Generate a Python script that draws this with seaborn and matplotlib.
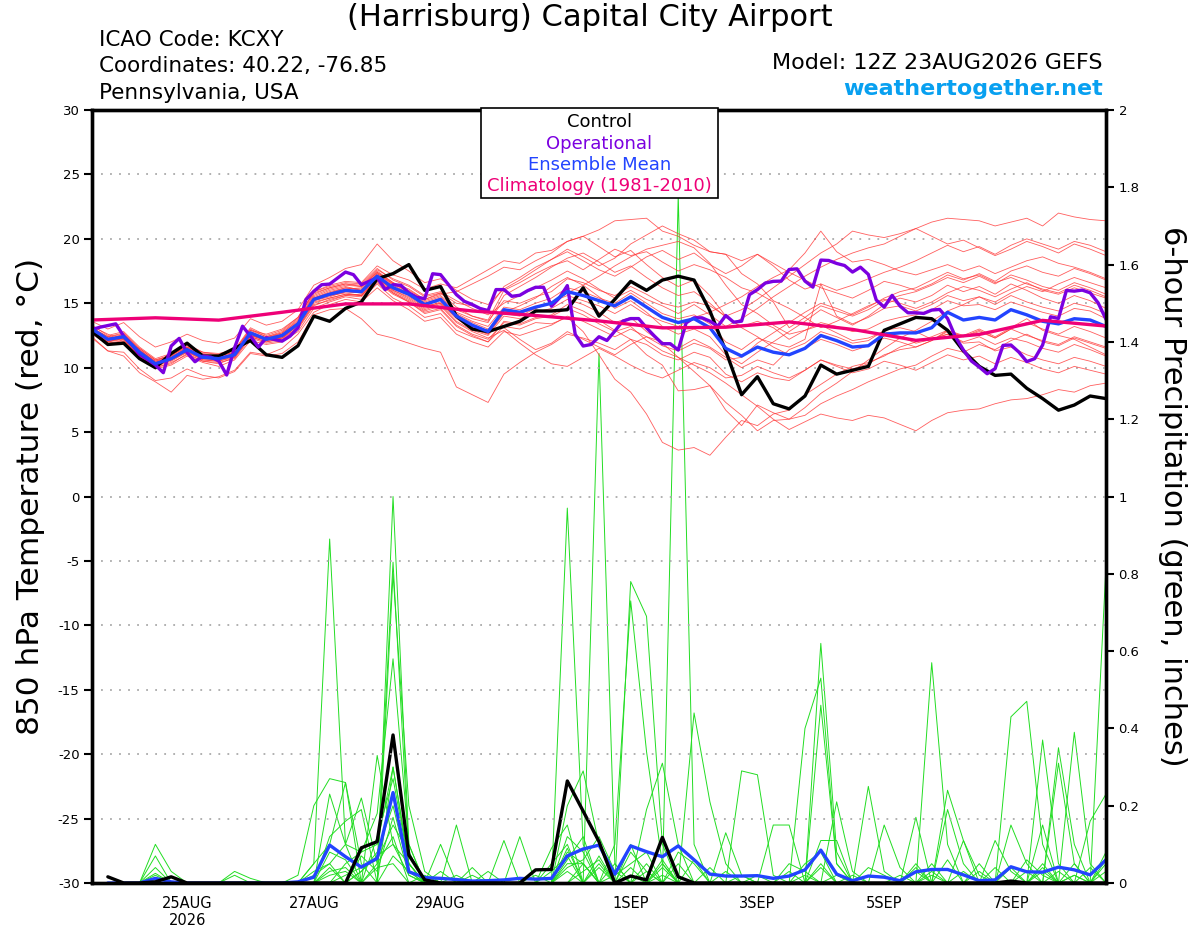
import numpy as np
import pandas as pd
import matplotlib
matplotlib.use("Agg")
import matplotlib.pyplot as plt
import matplotlib.patches as mpatches
import seaborn as sns

# ---- time axis (GEFS 12Z 23AUG2026 run, 6-hourly) ----
run_start = "2026-08-23 12:00"
n_steps = 65
tick_dates = ["2026-08-25", "2026-08-27", "2026-08-29", "2026-09-01",
              "2026-09-03", "2026-09-05", "2026-09-07"]
tick_labels = ["25AUG\n2026", "27AUG", "29AUG", "1SEP", "3SEP", "5SEP", "7SEP"]

# ---- 850 hPa temperature (deg C) ----
control_temp = [12.8, 11.8, 11.9, 10.7, 10.0, 11.1, 11.9, 10.9, 10.9, 11.5, 12.1, 11.0, 10.8,
                11.7, 14.0, 13.6, 14.6, 15.1, 16.9, 17.3, 18.0, 16.0, 16.3, 14.0, 13.0, 12.8,
                13.2, 13.6, 14.4, 14.4, 14.5, 16.2, 14.0, 15.3, 16.7, 16.0, 16.8, 17.1, 16.8,
                14.4, 11.3, 7.9, 9.3, 7.2, 6.8, 7.8, 10.2, 9.5, 9.8, 10.1, 12.9, 13.4,
                13.9, 13.8, 12.9, 11.3, 10.1, 9.4, 9.5, 8.4, 7.6, 6.7, 7.1, 7.8, 7.6]

mean_temp = [13.0, 12.2, 12.4, 11.2, 10.3, 10.7, 11.4, 10.8, 10.7, 11.0, 12.7, 12.2, 12.5,
             13.4, 15.3, 15.7, 16.0, 15.9, 17.1, 16.2, 15.7, 14.9, 15.3, 14.0, 13.3, 12.8,
             14.5, 14.3, 14.7, 15.0, 15.9, 15.6, 15.2, 14.8, 15.5, 14.7, 13.9, 13.5, 13.8,
             13.1, 11.5, 10.9, 11.6, 11.2, 11.0, 11.5, 12.5, 12.1, 11.6, 11.7, 12.6, 12.7,
             12.7, 13.1, 14.3, 13.7, 13.9, 13.7, 14.5, 14.1, 13.6, 13.4, 13.8, 13.7, 13.2]

# operational run is 3-hourly
oper_temp = [12.96, 13.14, 13.27, 13.40, 12.45, 11.80, 11.03, 10.64, 10.21, 9.61,
             11.68, 12.27, 11.16, 10.46, 10.90, 10.82, 10.52, 9.43, 11.55, 13.22,
             12.45, 11.60, 12.32, 12.19, 12.06, 12.45, 13.09, 15.28, 15.93, 16.44,
             16.49, 16.96, 17.42, 17.22, 16.44, 16.70, 17.01, 16.06, 16.44, 16.39,
             15.80, 15.46, 15.36, 17.29, 17.22, 16.44, 15.67, 15.15, 14.90, 14.59,
             14.43, 16.06, 16.06, 15.54, 15.62, 15.98, 16.24, 16.24, 14.77, 15.41,
             16.37, 12.58, 11.68, 11.80, 12.40, 12.11, 12.84, 13.61, 13.81, 13.81,
             13.09, 12.45, 11.86, 11.86, 11.37, 13.48, 13.87, 13.87, 13.61, 13.22,
             14.05, 13.53, 13.61, 15.67, 16.06, 16.57, 16.70, 16.72, 17.62, 17.67,
             16.72, 16.25, 18.35, 18.32, 18.09, 17.93, 17.42, 17.80, 17.24, 15.25,
             14.70, 15.61, 14.78, 14.26, 14.26, 14.21, 14.47, 14.52, 13.82, 12.38,
             11.37, 10.52, 10.05, 9.53, 9.92, 11.73, 11.76, 11.21, 10.47, 10.70,
             11.76, 13.95, 13.82, 15.99, 15.94, 16.02, 15.81, 15.04, 13.75]

# climatology (1981-2010), daily at 12Z
clim_temp = [13.7, 13.87, 13.69, 14.3, 14.95, 14.95, 14.4, 14.05, 13.63, 13.09,
             13.14, 13.55, 12.97, 12.12, 12.58, 13.67, 13.23]

ens_t01 = [13.2, 12.6, 12.0, 11.5, 10.6, 10.9, 11.8, 11.2, 11.0, 11.4, 12.9, 12.6, 13.0,
           13.9, 15.8, 16.2, 16.5, 16.4, 17.6, 16.9, 16.4, 15.6, 15.9, 15.2, 14.6, 14.1,
           15.0, 15.6, 16.2, 16.8, 17.5, 16.9, 16.1, 15.4, 16.0, 15.3, 14.8, 14.2, 14.9,
           14.1, 13.2, 13.8, 14.6, 15.5, 16.3, 17.1, 17.8, 18.4, 18.9, 19.3, 19.6, 20.2,
           20.8, 21.3, 21.6, 21.5, 21.4, 21.0, 21.3, 21.6, 21.0, 22.0, 21.7, 21.5, 21.4]
ens_t02 = [12.6, 11.8, 11.9, 10.8, 9.9, 10.2, 10.9, 10.4, 10.1, 10.6, 12.1, 11.8, 12.0,
           12.8, 14.6, 15.1, 15.5, 15.3, 16.5, 15.4, 14.8, 13.9, 14.2, 12.9, 12.4, 12.0,
           13.2, 13.0, 13.5, 13.4, 13.9, 12.8, 11.0, 9.1, 8.1, 6.4, 4.2, 3.6, 3.8,
           3.2, 4.6, 5.9, 5.5, 6.4, 6.7, 7.9, 8.7, 9.5, 10.1, 10.4, 10.9, 11.6,
           12.0, 12.4, 12.9, 12.5, 13.0, 12.4, 13.1, 13.8, 12.9, 12.5, 12.2, 11.6, 11.0]
ens_t03 = [12.9, 12.0, 12.3, 11.0, 10.0, 10.4, 11.0, 10.5, 10.3, 10.8, 12.4, 12.0, 12.3,
           13.1, 14.9, 15.2, 15.6, 15.7, 16.8, 15.8, 15.1, 14.3, 14.6, 13.3, 12.6, 12.2,
           13.5, 13.3, 13.8, 14.0, 14.6, 14.1, 13.4, 12.8, 13.2, 12.1, 11.3, 10.8, 10.2,
           9.6, 8.8, 7.9, 7.0, 6.0, 5.2, 5.8, 6.4, 6.1, 5.9, 6.3, 6.1, 5.6,
           5.1, 5.9, 6.5, 6.7, 6.8, 7.2, 7.5, 7.6, 7.9, 8.3, 8.1, 8.6, 8.8]
ens_t04 = [13.1, 12.4, 12.7, 11.5, 10.6, 11.0, 11.6, 11.1, 11.0, 11.3, 13.0, 12.4, 12.8,
           13.8, 15.9, 16.4, 16.7, 16.6, 17.9, 17.2, 16.8, 16.1, 16.5, 16.2, 16.9, 17.6,
           18.3, 18.1, 18.9, 19.1, 19.8, 20.2, 20.7, 21.4, 21.5, 21.6, 20.6, 20.2, 19.5,
           19.0, 18.8, 17.3, 16.5, 15.2, 14.6, 13.9, 13.1, 13.6, 14.2, 14.8, 15.3, 15.0,
           14.6, 15.1, 15.8, 16.3, 16.0, 15.5, 16.1, 16.6, 16.0, 15.7, 16.2, 15.8, 15.4]
ens_t05 = [13.0, 12.3, 12.5, 11.3, 10.5, 10.8, 11.5, 10.9, 10.8, 11.1, 12.8, 12.3, 12.6,
           13.5, 15.5, 16.0, 16.3, 16.0, 17.3, 16.5, 15.9, 15.1, 15.5, 14.3, 13.8, 13.5,
           15.6, 16.3, 17.0, 17.8, 18.5, 18.9, 18.2, 17.4, 17.9, 17.0, 16.2, 15.6, 15.9,
           15.0, 13.9, 13.2, 13.6, 13.1, 12.2, 12.9, 13.5, 13.2, 12.8, 13.0, 13.6, 13.9,
           14.1, 14.5, 15.2, 14.8, 14.9, 14.5, 15.1, 14.7, 14.3, 14.0, 14.6, 14.4, 13.8]
ens_t06 = [12.8, 12.0, 12.2, 10.9, 10.1, 10.6, 11.3, 10.6, 10.5, 10.9, 12.5, 12.1, 12.3,
           13.3, 15.2, 15.6, 15.8, 15.6, 16.9, 16.0, 15.4, 14.6, 15.0, 13.8, 13.0, 12.6,
           14.2, 14.0, 14.6, 15.1, 15.6, 15.2, 14.8, 14.2, 14.9, 14.1, 13.6, 13.2, 13.9,
           14.3, 14.9, 15.5, 16.3, 17.0, 17.6, 18.9, 20.6, 19.0, 18.2, 18.4, 18.0, 17.5,
           17.2, 17.6, 18.0, 17.5, 17.9, 17.3, 17.8, 18.3, 18.6, 18.1, 17.8, 17.4, 16.9]
ens_t07 = [12.7, 11.9, 12.0, 10.9, 10.0, 10.3, 11.1, 10.5, 10.4, 10.7, 12.3, 11.9, 12.1,
           13.0, 14.8, 15.3, 15.6, 15.5, 16.6, 15.7, 15.1, 14.2, 14.5, 13.2, 12.5, 12.0,
           13.6, 13.4, 13.9, 14.1, 14.9, 14.4, 13.7, 12.9, 12.2, 11.0, 10.2, 8.2, 8.3,
           8.6, 7.3, 6.3, 5.1, 5.9, 6.0, 6.3, 7.2, 7.8, 8.3, 8.9, 9.4, 9.9,
           10.2, 10.9, 11.5, 11.2, 11.8, 11.4, 12.1, 12.6, 12.0, 11.7, 12.3, 11.9, 11.5]
ens_t08 = [12.3, 11.3, 11.2, 9.9, 9.0, 9.2, 9.9, 9.4, 9.2, 9.7, 11.1, 10.9, 11.1,
           12.0, 14.1, 14.5, 14.6, 13.8, 12.6, 12.3, 11.9, 11.5, 11.2, 8.5, 7.9, 7.3,
           9.5, 10.4, 11.2, 11.8, 12.6, 12.3, 11.9, 11.4, 12.2, 11.8, 11.0, 10.6, 11.2,
           10.8, 9.5, 8.9, 9.6, 9.2, 9.0, 9.8, 10.6, 10.2, 9.9, 10.3, 11.0, 11.4,
           11.6, 12.1, 12.9, 12.4, 12.8, 12.3, 13.0, 12.5, 12.1, 11.8, 12.4, 12.0, 11.6]
ens_t09 = [13.3, 12.5, 12.8, 11.6, 10.7, 11.1, 11.7, 11.2, 11.1, 11.4, 13.1, 12.5, 12.9,
           13.9, 15.9, 16.3, 16.6, 16.5, 17.7, 16.8, 16.3, 15.5, 15.8, 14.7, 14.0, 13.6,
           15.2, 15.0, 15.5, 15.9, 16.9, 16.6, 16.0, 15.6, 16.3, 15.7, 15.0, 14.7, 15.1,
           14.8, 14.0, 14.5, 15.3, 16.2, 17.1, 18.0, 18.9, 19.6, 20.6, 20.3, 20.1, 20.4,
           20.8, 20.2, 19.6, 19.9, 19.3, 18.7, 19.2, 19.8, 19.4, 18.9, 19.6, 19.2, 18.7]
ens_t10 = [13.0, 12.2, 12.6, 11.4, 10.4, 10.8, 11.6, 11.0, 10.9, 11.2, 12.6, 12.3, 12.7,
           13.6, 15.6, 16.1, 16.4, 16.3, 17.5, 16.6, 16.0, 15.3, 15.8, 15.0, 14.8, 14.5,
           16.3, 17.0, 17.8, 18.4, 19.2, 18.6, 17.9, 18.5, 19.6, 20.3, 21.0, 20.4, 19.9,
           19.0, 18.8, 18.3, 18.8, 17.9, 16.8, 16.1, 16.5, 16.0, 16.4, 16.9, 17.4, 17.8,
           18.3, 18.9, 19.5, 19.0, 19.4, 18.8, 19.5, 20.0, 19.6, 19.2, 19.8, 19.5, 19.0]
ens_t11 = [12.7, 11.9, 12.1, 10.9, 10.1, 10.5, 11.2, 10.6, 10.5, 10.8, 12.4, 12.0, 12.2,
           13.1, 15.0, 15.4, 15.7, 15.6, 16.7, 15.8, 15.2, 14.4, 14.8, 13.5, 12.8, 12.3,
           12.9, 11.9, 11.0, 10.3, 10.1, 10.8, 11.5, 10.9, 10.2, 9.6, 9.2, 9.8, 10.4,
           10.0, 9.2, 9.4, 10.1, 9.6, 9.2, 9.8, 10.6, 10.1, 9.6, 9.9, 10.5, 10.2,
           9.8, 10.4, 11.0, 10.6, 10.9, 10.3, 10.8, 10.4, 9.9, 9.6, 10.1, 9.8, 9.5]
ens_t12 = [13.1, 12.3, 12.2, 11.0, 10.4, 10.6, 11.3, 10.7, 10.6, 11.2, 12.6, 12.2, 12.4,
           13.5, 15.2, 15.5, 15.9, 15.8, 16.9, 16.1, 15.6, 14.8, 15.0, 13.9, 13.2, 12.6,
           14.3, 14.8, 15.4, 16.3, 17.0, 16.4, 15.5, 14.6, 15.2, 14.3, 13.2, 12.6, 13.0,
           12.4, 11.0, 10.3, 11.2, 12.0, 12.8, 13.6, 14.5, 13.9, 13.3, 14.0, 14.9, 15.4,
           15.1, 15.6, 16.4, 15.9, 16.3, 15.7, 16.5, 16.0, 15.4, 15.0, 15.6, 15.2, 14.6]
ens_t13 = [12.9, 12.1, 12.4, 11.2, 10.2, 10.6, 11.4, 10.8, 10.6, 11.0, 12.6, 12.2, 12.4,
           13.4, 15.4, 15.8, 16.1, 16.2, 17.4, 16.6, 16.1, 15.3, 15.7, 15.9, 16.5, 17.1,
           17.8, 17.6, 18.3, 18.9, 19.8, 20.2, 19.4, 18.6, 19.1, 18.0, 17.0, 16.3, 16.8,
           15.6, 14.0, 13.1, 12.4, 11.6, 11.0, 11.5, 12.2, 11.8, 11.3, 11.7, 12.3, 12.0,
           11.6, 12.1, 12.8, 12.4, 12.9, 12.3, 13.0, 13.5, 13.0, 12.6, 13.2, 12.8, 12.3]
ens_t14 = [13.6, 13.0, 13.5, 12.4, 11.6, 12.0, 12.6, 12.1, 11.9, 12.3, 13.8, 13.3, 13.6,
           14.5, 16.4, 17.0, 17.7, 18.0, 19.6, 18.3, 17.5, 16.6, 16.9, 16.0, 15.3, 14.9,
           16.1, 16.8, 17.6, 18.4, 19.0, 18.3, 17.6, 17.1, 17.8, 18.6, 19.1, 18.4, 18.9,
           18.0, 17.3, 17.9, 18.8, 18.1, 17.4, 16.8, 16.2, 15.8, 15.4, 16.0, 16.7, 16.4,
           16.0, 16.5, 17.2, 16.8, 17.3, 16.7, 17.5, 17.9, 17.4, 17.1, 17.7, 17.3, 16.8]
ens_t15 = [12.4, 11.3, 10.9, 9.6, 8.9, 8.1, 9.4, 9.1, 9.3, 9.8, 11.2, 11.0, 11.5,
           12.6, 14.3, 14.9, 15.3, 15.1, 16.2, 15.2, 14.5, 13.6, 13.9, 12.6, 12.0, 11.6,
           12.8, 12.5, 12.9, 13.3, 14.0, 13.6, 13.0, 12.4, 13.0, 12.4, 11.7, 11.3, 11.9,
           11.5, 10.6, 10.8, 11.9, 12.7, 13.5, 14.3, 15.0, 14.6, 14.1, 14.7, 15.4, 15.9,
           16.2, 16.8, 17.4, 16.9, 17.2, 16.6, 17.0, 16.5, 16.1, 15.8, 16.4, 16.0, 15.5]
ens_t16 = [12.8, 12.1, 12.3, 11.1, 10.3, 10.7, 11.3, 10.8, 10.7, 10.9, 12.5, 12.1, 12.4,
           13.2, 15.1, 15.4, 15.7, 15.6, 16.8, 15.9, 15.3, 14.5, 14.9, 13.6, 12.9, 12.5,
           14.0, 13.8, 14.3, 14.6, 15.3, 14.9, 14.3, 13.5, 13.9, 12.8, 11.9, 10.8, 9.7,
           8.6, 6.7, 5.5, 7.1, 6.5, 6.0, 6.9, 8.0, 8.8, 9.7, 10.6, 11.5, 12.3,
           12.9, 13.6, 14.4, 14.9, 15.5, 15.1, 15.8, 16.3, 15.9, 16.5, 17.0, 16.6, 16.2]
ens_t17 = [12.9, 12.2, 12.5, 11.3, 10.4, 10.9, 11.5, 10.9, 10.8, 11.1, 12.7, 12.3, 12.5,
           13.4, 15.4, 15.8, 16.2, 16.0, 17.2, 16.3, 15.8, 15.0, 15.4, 14.1, 13.5, 13.0,
           13.1, 12.2, 11.4, 11.9, 12.8, 12.2, 11.6, 11.0, 11.8, 12.4, 12.0, 11.5, 12.2,
           11.6, 10.8, 10.0, 10.6, 10.2, 11.4, 11.9, 12.8, 12.4, 11.9, 12.1, 12.9, 13.1,
           12.8, 12.2, 12.6, 12.0, 12.4, 11.8, 12.3, 12.0, 11.5, 11.2, 11.8, 11.4, 10.9]
ens_t18 = [13.1, 12.4, 12.6, 11.4, 10.5, 11.0, 11.6, 11.0, 10.9, 11.2, 12.9, 12.4, 12.7,
           13.7, 15.7, 16.2, 16.5, 16.3, 17.4, 16.5, 15.9, 15.2, 15.6, 14.5, 14.0, 13.7,
           16.0, 16.6, 17.3, 17.9, 18.3, 17.6, 18.4, 19.2, 18.7, 19.0, 18.2, 17.5, 18.0,
           17.6, 17.0, 16.2, 15.8, 15.1, 13.1, 13.9, 14.8, 14.4, 14.0, 14.5, 15.2, 15.6,
           15.9, 16.4, 17.0, 16.6, 17.1, 16.5, 17.2, 16.8, 16.3, 16.0, 16.6, 16.2, 15.7]
ens_t19 = [12.8, 12.0, 12.4, 11.1, 10.2, 10.6, 11.2, 10.7, 10.6, 10.9, 12.5, 12.2, 12.3,
           13.3, 15.3, 15.6, 15.9, 15.8, 17.0, 16.0, 15.5, 14.7, 15.1, 13.9, 13.1, 12.7,
           14.4, 14.2, 14.6, 15.0, 15.8, 16.4, 17.1, 17.9, 18.6, 19.2, 19.5, 19.8, 19.3,
           18.1, 16.4, 14.9, 14.2, 13.3, 12.6, 12.9, 13.3, 12.7, 12.1, 12.3, 12.8, 12.4,
           11.9, 12.2, 12.6, 11.9, 12.0, 11.3, 11.6, 11.0, 10.6, 10.3, 10.8, 10.5, 10.1]
ens_t20 = [13.0, 12.3, 12.3, 11.2, 10.4, 10.7, 11.5, 10.9, 10.8, 11.0, 12.7, 12.3, 12.6,
           13.5, 15.4, 15.9, 16.2, 16.1, 17.3, 16.4, 15.8, 15.0, 15.3, 14.2, 13.6, 13.2,
           14.7, 14.5, 15.0, 15.4, 16.2, 15.9, 15.4, 15.0, 15.8, 15.0, 14.2, 13.8, 14.1,
           13.4, 12.0, 11.4, 12.3, 11.9, 11.6, 12.2, 16.5, 14.0, 13.4, 13.9, 14.6, 14.8,
           14.4, 14.9, 15.6, 15.2, 15.5, 14.9, 15.6, 15.1, 14.7, 14.4, 15.0, 14.7, 14.2]

ens_temp = [ens_t01, ens_t02, ens_t03, ens_t04, ens_t05, ens_t06, ens_t07, ens_t08, ens_t09, ens_t10,
            ens_t11, ens_t12, ens_t13, ens_t14, ens_t15, ens_t16, ens_t17, ens_t18, ens_t19, ens_t20]

# ---- 6-hour precipitation (inches), valid from the first 6 h step ----
control_prcp = [0.016, 0, 0, 0.003, 0.016, 0, 0, 0, 0, 0, 0, 0, 0, 0, 0, 0,
                0.091, 0.107, 0.383, 0.072, 0.008, 0, 0, 0, 0, 0, 0, 0.034, 0.035, 0.264, 0.186, 0.107,
                0, 0.018, 0.008, 0.118, 0.016, 0, 0, 0, 0, 0, 0, 0, 0, 0, 0, 0,
                0, 0, 0, 0, 0, 0, 0, 0, 0, 0.005, 0, 0, 0, 0, 0, 0]
mean_prcp = [0, 0, 0, 0.012, 0.003, 0, 0, 0, 0, 0, 0, 0, 0.003, 0.015, 0.098, 0.068,
             0.041, 0.064, 0.234, 0.029, 0.014, 0.012, 0.009, 0.005, 0.006, 0.008, 0.012, 0.010, 0.012, 0.070, 0.088, 0.098,
             0.023, 0.096, 0.081, 0.068, 0.096, 0.060, 0.023, 0.018, 0.018, 0.019, 0.012, 0.018, 0.034, 0.085, 0.023, 0.006,
             0.018, 0.015, 0.006, 0.029, 0.035, 0.035, 0.021, 0.006, 0.008, 0.042, 0.029, 0.028, 0.041, 0.034, 0.021, 0.060]

ens_p01 = [0, 0, 0, .10, .03, 0, 0, 0, 0, 0, 0, 0, 0, .05, .89, .10,
           0, 0, .30, .05, 0, 0, .15, 0, 0, 0, 0, 0, 0, .97, .10, 0,
           0, 0, .05, 0, 0, 0, 0, 0, .29, .28, .02, 0, 0, 0, 0, 0,
           0, 0, 0, 0, .05, 0, 0, 0, 0, 0, 0, .37, .05, 0, 0, 0]
ens_p02 = [0, 0, 0, .07, 0, 0, 0, 0, 0, 0, 0, 0, .02, .20, .27, .26,
           .05, 0, 1.00, .10, 0, .10, 0, 0, 0, 0, 0, 0, 0, 0, 0, 1.37,
           .05, 0, 0, .05, 0, 0, 0, 0, 0, 0, 0, 0, 0, .62, .08, 0,
           0, 0, 0, 0, 0, 0, 0, 0, 0, .43, .47, .10, 0, 0, 0, .05]
ens_p03 = [0, 0, 0, .025, 0, 0, 0, 0, 0, 0, 0, 0, 0, 0, .23, .10,
           .22, .05, .83, .08, 0, 0, 0, 0, 0, .11, 0, 0, 0, 0, .05, 0,
           0, .78, .69, .10, 0, 0, 0, 0, 0, 0, 0, 0, .40, .53, .05, 0,
           0, 0, 0, .17, 0, 0, 0, 0, 0, 0, 0, 0, 0, .39, .05, 0]
ens_p04 = [0, 0, 0, 0, 0, 0, 0, 0, .03, .012, 0, 0, 0, .05, .10, .26,
           0, .33, .10, .05, 0, 0, 0, 0, 0, 0, .12, 0, 0, .20, .29, .10,
           0, 0, 0, 0, 1.78, .10, 0, 0, 0, 0, 0, 0, 0, .46, .05, 0,
           0, 0, 0, 0, .57, .10, 0, 0, 0, 0, 0, 0, 0, 0, 0, .82]
ens_p05 = [0, 0, 0, 0, 0, 0, 0, 0, 0, 0, 0, 0, 0, 0, .12, .16,
           .19, 0, .80, .20, .03, 0, 0, 0, 0, 0, 0, 0, .09, .15, 0, 0,
           .10, .73, .34, .05, 0, 0, 0, 0, 0, 0, .15, .15, 0, 0, 0, 0,
           .25, .03, 0, 0, 0, 0, 0, 0, 0, 0, 0, 0, .35, .10, 0, 0]
ens_p06 = [0, 0, 0, 0, 0, 0, 0, 0, 0, 0, 0, 0, 0, .02, .05, .10,
           .08, .18, .58, .10, 0, 0, 0, .02, 0, 0, 0, 0, 0, .12, .08, 0,
           0, 0, .19, .31, .10, 0, 0, .13, .02, 0, 0, 0, 0, 0, 0, 0,
           0, .15, .04, 0, 0, 0, 0, 0, 0, .15, .05, 0, .31, .05, 0, 0]
ens_p07 = [0, 0, 0, 0, 0, 0, 0, 0, 0, 0, 0, 0, 0, 0, 0, .05,
           .08, .10, .30, .05, 0, 0, 0, 0, 0, 0, 0, 0, 0, .08, .05, 0,
           0, 0, 0, 0, 0, .44, .21, .05, 0, 0, 0, 0, 0, .11, .11, 0,
           0, 0, 0, 0, 0, .24, .11, 0, 0, 0, 0, .15, 0, 0, .16, .23]
ens_p08 = [0, 0, 0, 0, 0, 0, 0, 0, 0, 0, 0, 0, 0, 0, .08, .06,
           0, .12, .27, .05, 0, 0, 0, 0, .03, 0, 0, 0, .05, .10, 0, .05,
           0, .10, 0, 0, .08, .05, 0, 0, 0, 0, 0, 0, 0, 0, .21, .03,
           0, 0, 0, 0, 0, .19, .05, 0, .11, .03, 0, .05, 0, 0, 0, .08]
ens_p09 = [0, 0, 0, 0, 0, 0, 0, 0, 0, 0, 0, 0, 0, .03, .05, 0,
           .03, .08, .20, .03, 0, 0, 0, 0, 0, 0, 0, .02, 0, .06, .12, 0,
           .02, .05, .08, 0, 0, 0, 0, 0, 0, 0, 0, .05, .03, 0, 0, 0,
           0, 0, 0, .05, 0, 0, .11, .02, 0, 0, 0, 0, 0, .05, 0, 0]
ens_p10 = [0, 0, 0, 0, 0, 0, 0, 0, 0, 0, 0, 0, 0, 0, 0, .02,
           .04, .06, .15, .08, 0, 0, 0, 0, 0, 0, 0, 0, 0, .04, .06, .12,
           .03, 0, 0, .04, 0, 0, 0, .03, 0, 0, 0, 0, 0, 0, 0, .02,
           0, 0, 0, 0, .03, 0, 0, 0, 0, 0, .06, .02, 0, 0, 0, 0]
ens_p11 = [0, 0, 0, .02, 0, 0, 0, 0, 0, 0, 0, 0, 0, 0, .03, .04,
           0, .05, .12, 0, .02, 0, 0, 0, 0, 0, 0, 0, 0, .05, .05, 0,
           0, .08, .03, 0, 0, .06, 0, 0, 0, .02, 0, 0, 0, .05, 0, 0,
           0, 0, 0, .03, 0, 0, 0, 0, .04, 0, 0, 0, .03, 0, .04, 0]
ens_p12 = [0, 0, 0, 0, 0, 0, 0, 0, 0, 0, 0, 0, 0, 0, 0, 0,
           .03, .07, .10, .02, 0, .03, 0, 0, 0, 0, 0, 0, .03, .07, 0, .04,
           0, 0, 0, 0, .05, 0, 0, 0, 0, 0, 0, 0, .02, 0, 0, 0,
           .04, .02, 0, 0, 0, .06, 0, 0, 0, .04, 0, 0, 0, .02, 0, 0]
ens_p13 = [0, 0, 0, 0, 0, 0, 0, 0, 0, 0, 0, 0, 0, 0, .02, .03,
           0, 0, .07, .03, 0, 0, 0, 0, 0, 0, 0, 0, 0, 0, .03, .06,
           0, .04, 0, .02, 0, 0, .04, 0, 0, 0, 0, .03, 0, 0, .02, 0,
           0, 0, 0, 0, .02, 0, 0, .03, 0, 0, 0, .03, 0, 0, 0, .03]
ens_p14 = [0, 0, 0, 0, 0, 0, 0, 0, 0, 0, 0, 0, 0, 0, 0, 0,
           0, .04, .05, 0, 0, 0, .02, 0, 0, 0, 0, 0, 0, .03, 0, 0,
           .05, 0, .03, 0, 0, 0, 0, 0, .02, 0, 0, 0, 0, .04, 0, 0,
           0, 0, .02, 0, 0, 0, .03, 0, 0, 0, .03, 0, 0, .02, 0, 0]
ens_p15 = [0, 0, 0, .04, 0, 0, 0, 0, .02, 0, 0, 0, 0, 0, .04, 0,
           .07, .03, .17, .02, 0, 0, 0, .04, 0, 0, 0, 0, 0, .09, 0, .07,
           0, .02, 0, .06, 0, 0, 0, 0, 0, 0, 0, 0, .05, .08, 0, 0,
           0, 0, 0, .04, 0, 0, 0, .05, 0, 0, 0, .04, 0, 0, 0, .06]

ens_prcp = [ens_p01, ens_p02, ens_p03, ens_p04, ens_p05, ens_p06, ens_p07, ens_p08,
            ens_p09, ens_p10, ens_p11, ens_p12, ens_p13, ens_p14, ens_p15]

# ---- build the time coordinates ----
times = pd.date_range(run_start, periods=n_steps, freq="6h")
times_3h = pd.date_range(run_start, periods=len(oper_temp), freq="3h")
times_clim = pd.date_range(run_start, periods=len(clim_temp), freq="1D")
times_prcp = times[1:]

temp_df = pd.concat([pd.DataFrame({"time": times, "temp": m, "member": i})
                     for i, m in enumerate(ens_temp)], ignore_index=True)
prcp_df = pd.concat([pd.DataFrame({"time": times_prcp, "prcp": m, "member": i})
                     for i, m in enumerate(ens_prcp)], ignore_index=True)

# ---- style ----
sns.set_style("white")
plt.rcParams["font.family"] = ["DejaVu Sans"]
plt.rcParams["axes.unicode_minus"] = False
for key in ("text.color", "axes.labelcolor", "xtick.color", "ytick.color"):
    plt.rcParams[key] = "black"

fig = plt.figure(figsize=(12, 9.27), dpi=100)
ax_p = fig.add_axes([92 / 1200, 44 / 927, 1014 / 1200, 773 / 927])
ax_t = ax_p.twinx()

# precipitation (green) sits underneath the temperature lines
sns.lineplot(data=prcp_df, x="time", y="prcp", units="member", estimator=None,
             color="#22dd22", linewidth=0.7, ax=ax_p, legend=False)
sns.lineplot(x=times_prcp, y=mean_prcp, color="#2244ff", linewidth=2.4, ax=ax_p)
sns.lineplot(x=times_prcp, y=control_prcp, color="black", linewidth=2.4, ax=ax_p)

# temperature
sns.lineplot(data=temp_df, x="time", y="temp", units="member", estimator=None,
             color="#ff3535", linewidth=0.6, alpha=0.8, ax=ax_t, legend=False)
sns.lineplot(x=times, y=control_temp, color="black", linewidth=2.4, ax=ax_t)
sns.lineplot(x=times_3h, y=oper_temp, color="#7b00e0", linewidth=2.4, ax=ax_t)
sns.lineplot(x=times, y=mean_temp, color="#2244ff", linewidth=2.4, ax=ax_t)
sns.lineplot(x=times_clim, y=clim_temp, color="#ee0077", linewidth=2.4, ax=ax_t)

# axes, ticks
ax_t.set_xlim(times[0], times[-1])
ax_t.set_ylim(-30, 30)
ax_p.set_ylim(0, 2)

ax_t.yaxis.tick_left()
ax_t.yaxis.set_label_position("left")
ax_p.yaxis.tick_right()
ax_p.yaxis.set_label_position("right")

ax_t.set_yticks(np.arange(-30, 31, 5))
ax_p.set_yticks(np.arange(0, 2.01, 0.2))
ax_p.set_yticklabels([f"{v:g}" for v in np.arange(0, 2.01, 0.2)])
ax_t.set_xticks(pd.to_datetime(tick_dates))
ax_t.set_xticklabels(tick_labels)
ax_p.set_xticks(pd.to_datetime(tick_dates))
ax_p.set_xticklabels(tick_labels)

for a in (ax_t, ax_p):
    a.tick_params(axis="both", direction="out", length=6, width=1.5, colors="black",
                  labelsize=9.5, pad=3)
    for s in a.spines.values():
        s.set_linewidth(2.4)
        s.set_color("black")
ax_t.tick_params(axis="x", bottom=False, labelbottom=False)
ax_p.tick_params(axis="x", labelsize=10.5)

ax_t.grid(axis="y", linestyle=(0, (1, 4)), color="#aaaaaa", linewidth=1.3)
ax_t.grid(axis="x", visible=False)
ax_p.grid(False)
ax_t.set_axisbelow(True)

ax_t.set_xlabel("")
ax_p.set_xlabel("")
ax_t.set_ylabel("850 hPa Temperature (red, °C)", fontsize=22.5, va="center")
ax_t.yaxis.set_label_coords((30 - 92) / 1014, 0.5)
ax_p.set_ylabel("6-hour Precipitation (green, inches)", fontsize=22, rotation=270,
                va="center")
ax_p.yaxis.set_label_coords((1172 - 92) / 1014, 0.5)

# legend box with coloured labels
ax_t.add_patch(mpatches.Rectangle((0.3836, 0.886), 0.2338, 0.117, transform=ax_t.transAxes,
                                  facecolor="white", edgecolor="black", linewidth=1.2,
                                  zorder=10, clip_on=False))
legend_items = [("Control", "black"), ("Operational", "#7b00e0"),
                ("Ensemble Mean", "#2244ff"), ("Climatology (1981-2010)", "#ee0077")]
for k, (label, col) in enumerate(legend_items):
    ax_t.text(0.5005, 0.984 - k * 0.0275, label, color=col, fontsize=13, ha="center",
              va="center", transform=ax_t.transAxes, zorder=11)

# header texts
fig.text(590 / 1200, 1 - 18 / 927, "(Harrisburg) Capital City Airport", fontsize=22,
         ha="center", va="center")
fig.text(99 / 1200, 1 - 40 / 927, "ICAO Code: KCXY", fontsize=15.5, va="center")
fig.text(99 / 1200, 1 - 66 / 927, "Coordinates: 40.22, -76.85", fontsize=15.5, va="center")
fig.text(99 / 1200, 1 - 93 / 927, "Pennsylvania, USA", fontsize=15.5, va="center")
fig.text(1102 / 1200, 1 - 63 / 927, "Model: 12Z 23AUG2026 GEFS", fontsize=16,
         ha="right", va="center")
fig.text(1103 / 1200, 1 - 89 / 927, "weathertogether.net", fontsize=16, fontweight="bold",
         color="#08a0f0", ha="right", va="center")

fig.savefig("out.png", dpi=100, facecolor="white")
